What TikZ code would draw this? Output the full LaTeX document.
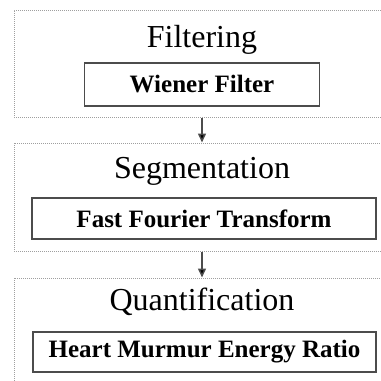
\documentclass[tikz,border=0pt]{standalone}
\usepackage{fontspec}
\setmainfont{Liberation Serif}
\usetikzlibrary{arrows.meta}
\begin{document}
\begin{tikzpicture}[x=1pt,y=-1pt,
  outerbox/.style={draw=gray!75, densely dotted, line width=1pt, inner sep=0pt},
  title/.style={anchor=base, inner sep=0pt, font=\fontsize{32}{32}\selectfont},
  inbox/.style={draw=black!70, line width=1.5pt, fill=white, inner sep=0pt,
     font=\fontsize{25}{25}\selectfont\bfseries},
  arr/.style={draw=black!70, line width=1.5pt, -{Triangle[width=8pt,length=9pt,fill=black]}}]
\useasboundingbox (0,0) rectangle (381,381);
\clip (0,0) rectangle (381,381);
% outer dotted containers
\node[outerbox, minimum width=386pt, minimum height=107pt] (b1) at (207,63.5) {};
\node[outerbox, minimum width=386pt, minimum height=108pt] (b2) at (207,197) {};
\node[outerbox, minimum width=386pt, minimum height=122pt] (b3) at (207,339) {};
% titles
\node[title] (t1) at (202,47) {Filtering};
\node[title] (t2) at (202,178) {Segmentation};
\node[title] (t3) at (202,310) {Quantification};
% inner boxes
\node[inbox, minimum width=235pt, minimum height=43pt] (i1) at (202,84.5) {Wiener Filter};
\node[inbox, minimum width=344pt, minimum height=41pt] (i2) at (204,218.5) {Fast Fourier Transform};
\node[inbox, minimum width=343pt, minimum height=40pt] (i3) at (204.5,352) {Heart Murmur Energy Ratio};
% arrows
\draw[arr] (b1.south -| t1) -- (b2.north -| t1);
\draw[arr] (b2.south -| t2) -- (b3.north -| t2);
\end{tikzpicture}
\end{document}
